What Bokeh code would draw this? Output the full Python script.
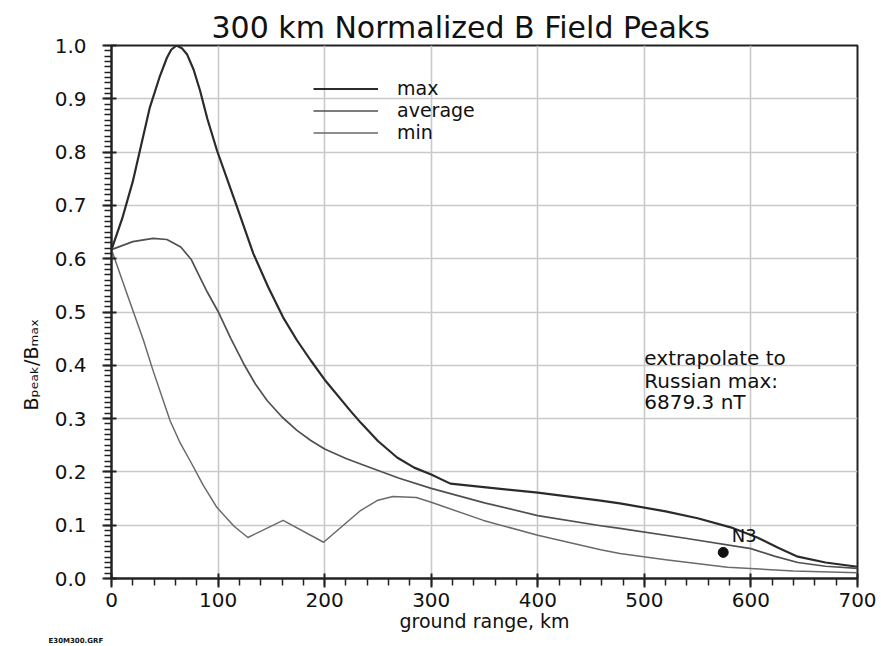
import numpy as np
from bokeh.plotting import figure
from bokeh.models import (Range1d, FixedTicker, PrintfTickFormatter, Label,
                          Legend, LegendItem, Title)
from bokeh.embed import file_html
from bokeh.resources import INLINE

FONT = "DejaVu Sans"

# ---------------- data ----------------
x_ticks = [0, 100, 200, 300, 400, 500, 600, 700]
y_ticks = [0.0, 0.1, 0.2, 0.3, 0.4, 0.5, 0.6, 0.7, 0.8, 0.9, 1.0]

max_km = [0, 10, 20, 36, 45, 52, 56, 61, 66, 71, 77, 83, 90, 99, 118, 133, 147,
          161, 174, 187, 200, 224, 234, 250, 268, 284, 300, 318, 400, 459, 477,
          520, 550, 581, 606, 625, 644, 670, 700]
max_val = [0.617, 0.675, 0.745, 0.884, 0.94, 0.977, 0.992, 1.0, 0.995, 0.983,
           0.955, 0.916, 0.862, 0.803, 0.696, 0.61, 0.547, 0.49, 0.447, 0.409,
           0.373, 0.315, 0.292, 0.258, 0.227, 0.208, 0.195, 0.178, 0.161, 0.146,
           0.141, 0.126, 0.113, 0.096, 0.077, 0.058, 0.041, 0.03, 0.022]

avg_km = [0, 20, 39, 52, 65, 75, 83, 90, 100, 112, 124, 135, 146, 160, 174, 187,
          200, 220, 240, 270, 300, 350, 400, 459, 477, 540, 600, 622, 644, 670, 700]
avg_val = [0.617, 0.632, 0.638, 0.636, 0.622, 0.598, 0.565, 0.537, 0.501, 0.45,
           0.403, 0.365, 0.334, 0.303, 0.278, 0.259, 0.243, 0.225, 0.21, 0.188,
           0.169, 0.142, 0.118, 0.099, 0.094, 0.075, 0.056, 0.042, 0.03, 0.023,
           0.019]

min_km = [0, 17, 30, 39, 55, 64, 74, 86, 99, 115, 128, 161, 199, 234, 250, 264,
          286, 300, 349, 400, 459, 477, 520, 578, 640, 700]
min_val = [0.617, 0.52, 0.447, 0.39, 0.296, 0.256, 0.22, 0.175, 0.133, 0.098,
           0.077, 0.109, 0.068, 0.128, 0.147, 0.154, 0.152, 0.143, 0.109, 0.081,
           0.054, 0.047, 0.035, 0.021, 0.014, 0.011]

series_names = ["max", "average", "min"]

n3_km = [574]
n3_val = [0.049]
n3_name = "N3"

title_text = "300 km Normalized B Field Peaks"
x_label = "ground range, km"
y_label = "B\u209a\u2091\u2090\u2096/B\u2098\u2090\u2093"
note_lines = ["extrapolate to", "Russian max:", "6879.3 nT"]
file_tag = "E30M300.GRF"

# ---------------- figure ----------------
p = figure(width=881, height=646, output_backend="svg", toolbar_location=None,
           x_range=Range1d(0, 700), y_range=Range1d(0, 1),
           min_border_left=111, min_border_right=24,
           min_border_top=45, min_border_bottom=68)
p.background_fill_color = "white"
p.border_fill_color = "white"
p.outline_line_color = "#222222"
p.outline_line_width = 2

p.title.text = title_text
p.title.align = "left"
p.title.offset = 100
p.title.standoff = 2
p.title.text_font = FONT
p.title.text_font_size = "30px"
p.title.text_font_style = "normal"
p.title.text_color = "#111111"

xt = FixedTicker(ticks=x_ticks, minor_ticks=list(np.arange(0, 701, 20)))
yt = FixedTicker(ticks=y_ticks, minor_ticks=[round(v, 2) for v in np.arange(0, 1.0001, 0.01)])
p.xaxis.ticker = xt
p.yaxis.ticker = yt
p.xgrid.ticker = xt
p.ygrid.ticker = yt
p.xaxis.formatter = PrintfTickFormatter(format="%d")
p.yaxis.formatter = PrintfTickFormatter(format="%.1f")

p.grid.grid_line_color = "#c9c9c9"
p.grid.grid_line_width = 1.6

for ax in (p.xaxis, p.yaxis):
    ax.axis_line_color = "#222222"
    ax.axis_line_width = 2
    ax.major_tick_line_color = "#222222"
    ax.major_tick_line_width = 2
    ax.minor_tick_line_color = "#222222"
    ax.minor_tick_line_width = 1.5
    ax.major_tick_in = 5
    ax.major_tick_out = 9
    ax.minor_tick_in = 0
    ax.minor_tick_out = 7
    ax.major_label_text_font = FONT
    ax.major_label_text_font_size = "20px"
    ax.major_label_text_color = "#111111"

p.xaxis.major_label_standoff = 5
p.yaxis.major_label_standoff = 16
p.xaxis.axis_label = x_label
p.xaxis.axis_label_text_font = FONT
p.xaxis.axis_label_text_font_size = "19px"
p.xaxis.axis_label_text_font_style = "normal"
p.xaxis.axis_label_text_color = "#111111"
p.xaxis.axis_label_standoff = 0

# rotated y label as a side title so it can sit outside the frame
ylab = Title(text=y_label, align="left", offset=168, standoff=20,
             text_font=FONT, text_font_size="19px", text_font_style="normal",
             text_color="#111111")
p.add_layout(ylab, "left")

# small file tag under the x axis
tag = Title(text=file_tag, align="left", offset=-63, standoff=0,
            text_font=FONT, text_font_size="7px", text_font_style="bold",
            text_color="#111111")
p.add_layout(tag, "below")

# ---------------- curves ----------------
r_max = p.line(max_km, max_val, line_color="#2b2b2b", line_width=2.2, line_join="round")
r_avg = p.line(avg_km, avg_val, line_color="#505050", line_width=1.7, line_join="round")
r_min = p.line(min_km, min_val, line_color="#6a6a6a", line_width=1.5, line_join="round")

p.scatter(n3_km, n3_val, size=10, color="#111111")

legend = Legend(items=[LegendItem(label=series_names[0], renderers=[r_max]),
                       LegendItem(label=series_names[1], renderers=[r_avg]),
                       LegendItem(label=series_names[2], renderers=[r_min])],
                location=(202, 435), orientation="vertical",
                glyph_width=65, glyph_height=21, label_height=21, spacing=0,
                label_standoff=19, padding=0, margin=0,
                background_fill_alpha=0, border_line_alpha=0,
                label_text_font=FONT, label_text_font_size="19px",
                label_text_color="#111111")
p.add_layout(legend, "center")

# ---------------- text annotations inside the frame ----------------
def lab(text, x, y, size):
    p.add_layout(Label(x=x, y=y, text=text, text_font=FONT, text_font_size=size,
                       text_align="left", text_baseline="middle",
                       text_color="#111111"))

lab(note_lines[0], 500, 0.413, "20px")
lab(note_lines[1], 500, 0.371, "20px")
lab(note_lines[2], 500, 0.331, "20px")
lab(n3_name, 582, 0.081, "18px")

open("out.html", "w").write(file_html(p, INLINE))
